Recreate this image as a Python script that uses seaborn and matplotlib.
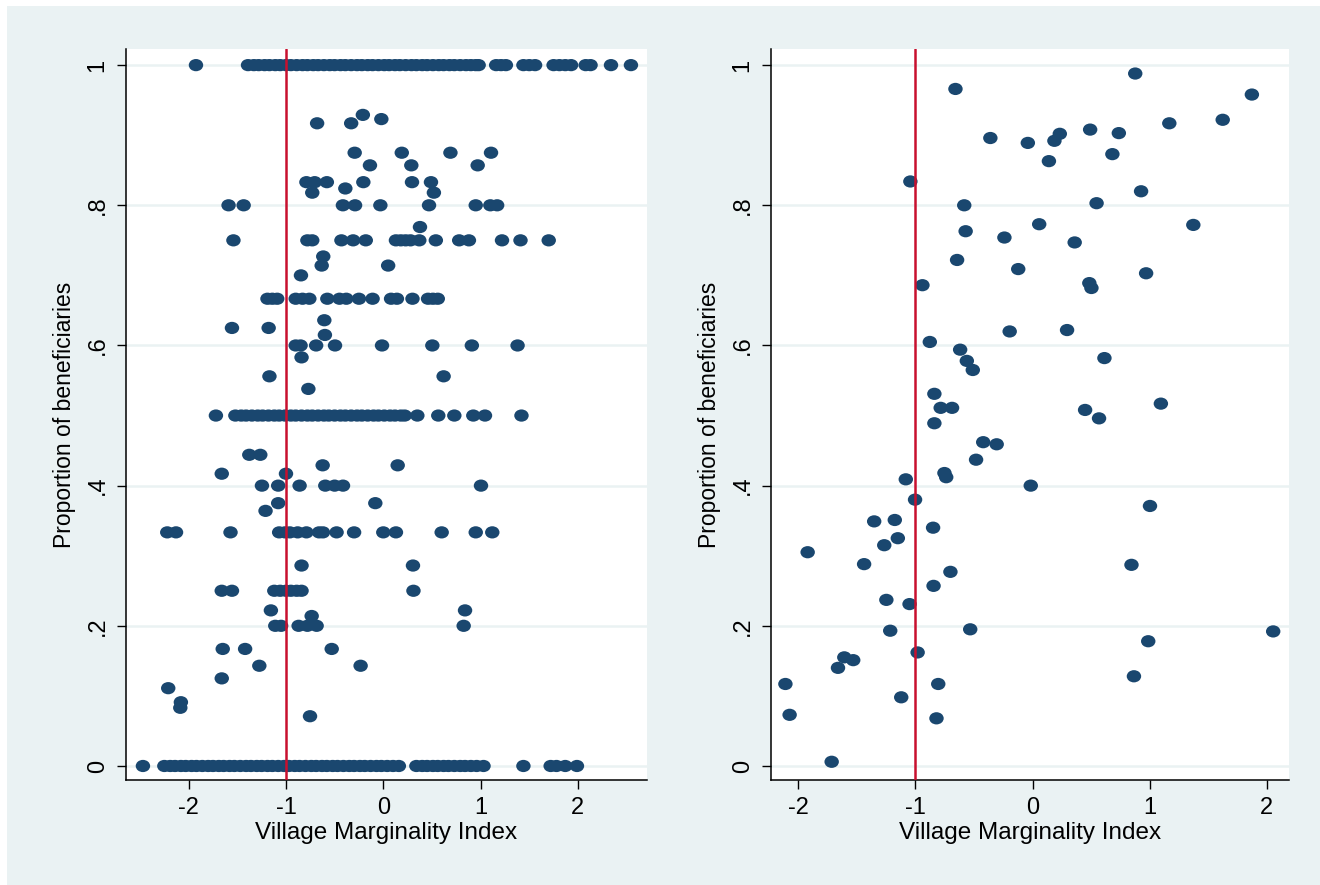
import matplotlib
matplotlib.use("Agg")
import matplotlib.pyplot as plt
import seaborn as sns
import pandas as pd
from matplotlib.path import Path
from matplotlib.patches import Rectangle
from matplotlib.transforms import Affine2D

# ---------------- data: left panel (values grouped by proportion level) ----------------
left_at_1 = [-1.925, -1.39, -1.33, -1.28, -1.22, -1.17, -1.11, -1.06, -1.00, -0.95, -0.89,
             -0.83, -0.78, -0.72, -0.67, -0.61, -0.55, -0.50, -0.44, -0.39, -0.33, -0.27,
             -0.22, -0.16, -0.11, -0.05, 0.01, 0.06, 0.12, 0.17, 0.23, 0.29, 0.34, 0.40,
             0.45, 0.51, 0.57, 0.62, 0.68, 0.73, 0.79, 0.85, 0.90, 0.95, 0.98, 1.16, 1.21,
             1.26, 1.44, 1.50, 1.56, 1.75, 1.81, 1.87, 1.93, 2.08, 2.13, 2.34, 2.545]
left_at_0 = [-2.47, -2.25, -2.19, -2.14, -2.08, -2.03, -1.97, -1.92, -1.86, -1.80, -1.75,
             -1.69, -1.64, -1.58, -1.53, -1.47, -1.41, -1.36, -1.30, -1.25, -1.19, -1.14,
             -1.08, -1.02, -0.97, -0.91, -0.86, -0.80, -0.74, -0.69, -0.63, -0.58, -0.52,
             -0.47, -0.41, -0.35, -0.30, -0.24, -0.19, -0.13, -0.07, -0.02, 0.04, 0.10,
             0.16, 0.34, 0.40, 0.45, 0.51, 0.56, 0.62, 0.67, 0.73, 0.79, 0.84, 0.90, 0.96,
             1.03, 1.44, 1.72, 1.78, 1.87, 1.99]
left_at_half = [-1.72, -1.52, -1.46, -1.41, -1.35, -1.29, -1.24, -1.18, -1.12, -1.07, -1.01,
                -0.95, -0.90, -0.84, -0.78, -0.73, -0.67, -0.61, -0.56, -0.50, -0.44, -0.39,
                -0.33, -0.27, -0.22, -0.16, -0.10, -0.05, 0.01, 0.07, 0.12, 0.18, 0.22,
                0.35, 0.565, 0.73, 0.925, 1.045, 1.42]
left_at_two_thirds = [-1.19, -1.14, -1.09, -0.90, -0.83, -0.76, -0.575, -0.45, -0.38, -0.25,
                      -0.11, 0.08, 0.14, 0.30, 0.46, 0.51, 0.56]
left_at_one_third = [-2.22, -2.13, -1.57, -1.07, -1.01, -0.96, -0.88, -0.79, -0.66, -0.62,
                     -0.48, -0.30, 0.00, 0.13, 0.60, 0.95, 1.12]
left_at_three_quarters = [-1.54, -0.78, -0.73, -0.43, -0.31, -0.18, 0.13, 0.18, 0.23, 0.28,
                          0.37, 0.54, 0.78, 0.88, 1.22, 1.41, 1.70]
left_at_four_fifths = [-1.59, -1.435, -0.415, -0.29, -0.03, 0.47, 0.95, 1.10, 1.17]
left_at_three_fifths = [-0.90, -0.85, -0.69, -0.496, -0.013, 0.504, 0.91, 1.38]
left_at_two_fifths = [-1.247, -1.08, -0.86, -0.596, -0.50, -0.414, 1.004]
left_at_one_quarter = [-1.66, -1.555, -1.12, -1.06, -1.00, -0.95, -0.89, -0.84, 0.31]
left_at_one_fifth = [-1.11, -1.05, -0.87, -0.78, -0.685, 0.826]

left_other_x = [-0.68, -0.33, -0.21, -0.02, -0.294, 0.19, 0.69, 1.107, -0.137, 0.288, 0.97,
                -0.79, -0.705, -0.58, -0.205, 0.295, 0.49, -0.39, -0.73, 0.52, 0.377,
                -0.617, -0.633, 0.05, -0.846, -0.606, -1.555, -1.178, -0.60, -0.84, -1.17,
                0.62, -0.77, -1.377, -1.264, -0.623, 0.148, -1.66, -1.0, -1.08, -0.082,
                -1.21, -0.84, 0.305, -1.155, 0.84, -0.736, -1.65, -1.42, -0.53, -1.274,
                -0.233, -1.66, -2.21, -2.08, -2.086, -0.753]
left_other_y = [0.917, 0.917, 0.929, 0.923, 0.875, 0.875, 0.875, 0.875, 0.857, 0.857, 0.857,
                0.833, 0.833, 0.833, 0.833, 0.833, 0.833, 0.824, 0.818, 0.818, 0.769,
                0.727, 0.714, 0.714, 0.70, 0.636, 0.625, 0.625, 0.615, 0.583, 0.556,
                0.556, 0.538, 0.444, 0.444, 0.429, 0.429, 0.417, 0.417, 0.375, 0.375,
                0.364, 0.286, 0.286, 0.222, 0.222, 0.214, 0.167, 0.167, 0.167, 0.143,
                0.143, 0.125, 0.111, 0.091, 0.083, 0.071]

# ---------------- data: right panel ----------------
right_x = [-0.658, 0.877, 1.873, 1.624, 1.168, -0.36, -0.04, 0.187, 0.233, 0.492, 0.737,
           0.14, 0.682, -1.043, 0.927, -0.583, 0.547, 0.057, 1.373, -0.571, -0.24, 0.36,
           -0.644, -0.122, 0.97, -0.94, 0.485, 0.503, -0.195, 0.295, -0.877, -0.618,
           -0.561, -0.51, 0.614, -0.838, -0.784, -0.687, -0.838, 1.096, 0.449, 0.568,
           -0.421, -0.306, -0.482, -0.752, -0.737, -1.082, -0.015, -1.003, 1.003, -1.352,
           -1.176, -0.849, -1.15, -1.266, -1.92, -1.438, 0.845, -0.701, -0.845, -1.248,
           -1.05, -1.215, -0.532, 2.055, 0.988, -0.981, -1.607, -1.531, -1.661, 0.866,
           -2.11, -0.805, -1.121, -2.074, -0.82, -1.715]
right_y = [0.966, 0.988, 0.958, 0.922, 0.917, 0.896, 0.889, 0.892, 0.902, 0.908, 0.903,
           0.863, 0.873, 0.834, 0.820, 0.800, 0.803, 0.773, 0.772, 0.763, 0.754, 0.747,
           0.722, 0.709, 0.703, 0.686, 0.689, 0.682, 0.620, 0.622, 0.605, 0.594,
           0.578, 0.565, 0.582, 0.531, 0.511, 0.511, 0.489, 0.517, 0.508, 0.496,
           0.462, 0.459, 0.437, 0.418, 0.412, 0.409, 0.400, 0.380, 0.371, 0.349,
           0.351, 0.340, 0.325, 0.315, 0.305, 0.288, 0.287, 0.277, 0.257, 0.237,
           0.231, 0.193, 0.195, 0.192, 0.178, 0.162, 0.155, 0.151, 0.140, 0.128,
           0.117, 0.117, 0.098, 0.073, 0.068, 0.006]

y_ticks = [0, 0.2, 0.4, 0.6, 0.8, 1.0]
y_tick_labels = ["0", ".2", ".4", ".6", ".8", "1"]
x_ticks = [-2, -1, 0, 1, 2]
x_tick_labels = ["-2", "-1", "0", "1", "2"]
cutoff = -1
x_title = "Village Marginality Index"
y_title = "Proportion of beneficiaries"

# ---------------- build frames ----------------
levels = [(1.0, left_at_1), (0.0, left_at_0), (0.5, left_at_half),
          (2 / 3, left_at_two_thirds), (1 / 3, left_at_one_third),
          (0.75, left_at_three_quarters), (0.8, left_at_four_fifths),
          (0.6, left_at_three_fifths), (0.4, left_at_two_fifths),
          (0.25, left_at_one_quarter), (0.2, left_at_one_fifth)]
lx, ly = [], []
for lev, xs in levels:
    lx += xs
    ly += [lev] * len(xs)
lx += left_other_x
ly += left_other_y
left_df = pd.DataFrame({"x": lx, "y": ly})
right_df = pd.DataFrame({"x": right_x, "y": right_y})

# ---------------- style ----------------
sns.set_style("ticks")
plt.rcParams["font.family"] = ["Liberation Sans", "DejaVu Sans"]

NAVY = "#1A476F"
RED = "#C8102E"
BG = "#EAF2F3"

W, H = 1320, 885
fig = plt.figure(figsize=(W / 100, H / 100), dpi=100)
fig.patch.set_facecolor("white")
fig.add_artist(Rectangle((7 / W, 0), 1, 1 - 6 / H, transform=fig.transFigure,
                         facecolor=BG, edgecolor="none", zorder=-10))

ax1 = fig.add_axes([126 / W, 1 - 780 / H, 521 / W, 731 / H])
ax2 = fig.add_axes([771 / W, 1 - 780 / H, 518 / W, 731 / H])

ellipse = Path.unit_circle().transformed(Affine2D().scale(1.18, 1.0))

for ax, df, xlim in [(ax1, left_df, (-2.644, 2.71)), (ax2, right_df, (-2.233, 2.19))]:
    ax.set_facecolor("white")
    sns.scatterplot(data=df, x="x", y="y", ax=ax, marker=ellipse, s=108, color=NAVY,
                    edgecolor="none", linewidth=0, zorder=3)
    ax.axvline(cutoff, color=RED, lw=1.8, zorder=4)
    ax.set_xlim(*xlim)
    ax.set_ylim(-0.020, 1.023)
    ax.set_yticks(y_ticks)
    ax.set_yticklabels(y_tick_labels, rotation=90, va="center")
    ax.set_xticks(x_ticks)
    ax.set_xticklabels(x_tick_labels)
    ax.grid(axis="y", color=BG, lw=1.8)
    ax.grid(axis="x", visible=False)
    ax.set_axisbelow(True)
    for s in ["top", "right"]:
        ax.spines[s].set_visible(False)
    for s in ["left", "bottom"]:
        ax.spines[s].set_color("black")
        ax.spines[s].set_linewidth(1.1)
    ax.tick_params(axis="both", direction="out", length=6.5, width=1.0,
                   labelsize=17, colors="black", pad=6)
    ax.tick_params(axis="x", pad=6)
    ax.set_xlabel(x_title, fontsize=17.5, labelpad=2, color="black")
    ax.set_ylabel(y_title, fontsize=16.5, labelpad=8, color="black")

fig.savefig("out.png", dpi=100, facecolor=fig.get_facecolor())
